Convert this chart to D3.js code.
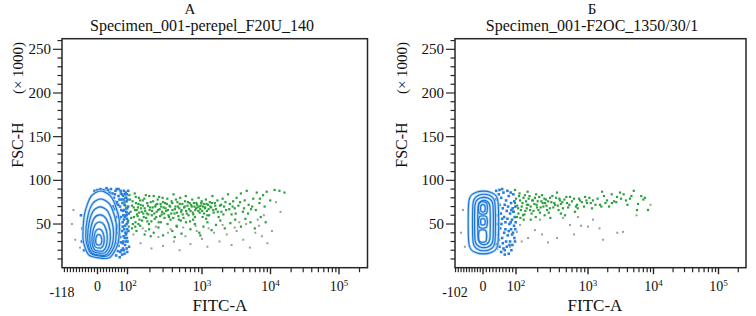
<!DOCTYPE html>
<html><head><meta charset="utf-8">
<script src="https://cdn.jsdelivr.net/npm/d3@7"></script>
<style>
body{margin:0;background:#fff}
svg{display:block}
text{font-family:"Liberation Serif","Times New Roman",serif;fill:#111}
</style>
</head><body>
<svg id="c" width="756" height="316"></svg>
<script>
// ---------------- data ----------------
const panelLetters = ["А", "Б"];
const panelTitles = ["Specimen_001-perepel_F20U_140", "Specimen_001-F2OC_1350/30/1"];
const xMinValues = [-118, -102];
const xMaxValue = 262144;
const yMaxK = 262.144;
const yMajorTicks = [50, 100, 150, 200, 250];
const xMajorTicks = [0, 100, 1000, 10000, 100000];
const xTickBase = ["0", "10", "10", "10", "10"];
const xTickExp = ["", "2", "3", "4", "5"];
const xAxisTitle = "FITC-A";
const yAxisTitle = "FSC-H";
const yAxisUnit = "(× 1000)";

// panel A: [FITC-A, FSC-H (×1000)]
const greenA = [
  [85,82],[90,75],[95,68],[98,60],[102,54],[108,78],[110,64],[115,71],[118,50],[122,58],[125,85],[126,66],
  [130,74],[134,61],[138,69],[142,80],[145,55],[150,72],[155,64],[160,77],[165,58],[170,68],[176,83],[182,62],[188,71],[194,50],[198,66],
  [205,75],[212,60],[218,69],[225,82],[232,56],[240,72],[246,64],[254,78],[262,52],[270,67],[278,73],[288,61],[296,80],[305,69],[314,57],[320,74],
  [330,65],[342,79],[355,60],[366,71],[378,55],[390,76],[402,66],[415,84],[428,62],[440,70],[455,48],[468,75],[482,59],[496,68],[510,80],
  [525,64],[545,73],[565,57],[585,70],[605,82],[625,62],[648,75],[670,67],[692,53],[715,72],[740,78],[765,61],[790,70],[812,66],
  [840,74],[870,69],[900,80],[930,63],[960,71],[990,76],[1020,58],[1060,73],[1100,68],[1140,78],[1180,65],[1220,72],[1270,60],[1300,75],
  [1360,69],[1420,82],[1480,63],[1540,74],[1600,67],[1680,77],[1750,58],[1830,71],[1920,64],[2000,79],[2100,70],
  [2250,66],[2400,84],[2550,73],[2700,61],[2850,76],[3000,68],[3200,80],[3400,71],
  [3700,85],[3950,64],[4200,77],[4500,88],[4800,72],[5200,67],[5600,79],
  [6300,86],[6900,74],[7800,83],[8800,87],[9900,77],[11500,89],[13500,88],[16000,86],
  [93,71],[97,63],[104,47],[106,83],[112,57],[117,76],[121,69],[128,52],[129,81],[133,66],[137,59],[140,73],[143,63],
  [147,77],[152,68],[157,54],[161,71],[163,62],[168,79],[173,65],[178,57],[184,74],[191,61],[196,82],[201,69],[209,53],
  [214,65],[221,76],[229,62],[236,70],[243,58],[251,73],[258,66],[266,81],[274,59],[283,70],[292,64],[300,75],[311,62],
  [323,68],[337,73],[349,66],[361,58],[374,70],[387,62],[399,74],[411,57],[433,67],[447,78],[462,63],[476,70],[489,55],
  [503,73],[532,66],[551,61],[574,69],[593,76],[612,65],[637,71],[659,60],[681,74],[703,65],[728,70],[752,63],[778,74],
  [803,58],[833,68],[862,72],[893,65],[921,70],[948,67],[976,74],[1005,65],[1035,70],[1075,62],[1115,69],[1160,73],
  [1200,60],[1250,67],[1320,70],[1400,74],[1460,66],[1560,71],[1700,64],[1900,72],[2050,61],[2200,75],[2500,67],
  [2800,70],[3100,62],[3600,75],[4100,68],[4700,62],[5400,70],[6100,66],[7000,79],[8200,70],
  [115,45],[132,42],[148,48],[170,38],[195,44],[225,40],[260,46],[300,37],[345,50],[400,42],[460,47],[530,39],
  [610,52],[700,44],[800,50],[920,40],[1050,47],[1200,52],[1380,43],[1600,49],[1850,54],[2150,45],[2600,51],[3050,55],
  [3700,47],[4300,56],[5100,52],[5900,45],[7200,58],[8500,52],[140,50],[185,53],[280,52],[520,54],[760,55],[1150,56],
  [127,47],[205,36],[430,35],[950,37]
];
const grayA = [
  [-85,50],[-80,66],[-74,32],[-58,23],[120,38],[150,28],[175,42],[210,22],[260,35],[300,25],[350,40],[420,30],
  [500,20],[600,36],[700,27],[850,42],[1000,33],[1200,24],[1500,40],[1800,30],[2300,38],[2700,26],[3200,42],
  [4000,32],[5000,23],[6000,40],[7500,36],[9000,28],[10500,42],[3500,52],[6500,55],[8000,60],[12000,75],[14000,64],
  [160,45],[240,47],[380,44],[560,46],[820,48],[1250,45],[2000,49],[3000,46],[4400,50],[6800,48]
];
const blueA = [
  [50,85],[55,80],[60,88],[65,75],[70,82],[75,70],[80,78],[85,65],[90,72],[68,62],[78,58],[88,55],[92,48],[72,50],
  [82,42],[95,38],[76,35],[86,30],[70,25],[80,20],[90,16],[62,14],[74,12],[45,90],[35,89],[25,87],[58,67],[64,45],
  [84,47],[94,60],[96,80],[66,28],[78,85],[88,88],[40,86],[52,70],[60,55],[72,38],[85,22],[92,26],
  [-55,60],[-50,45],[-52,30],[-45,20],
  [98,84],[97,76],[99,68],[96,64],[98,56],[97,50],[99,44],[96,40],[98,34],[95,30],[97,22],[99,18],[93,80],[91,84],
  [87,78],[83,74],[89,66],[86,60],[91,58],[84,52],[89,44],[93,40],[87,36],[84,28],[91,34],[88,20],[82,15],[76,18],
  [71,30],[67,40],[63,58],[69,72],[73,78],[77,88],[82,84],[58,84],[64,90],[70,90],[56,76],[61,73],[79,66],[73,56],
  [66,48],[74,44],[79,29],[68,19],[94,86],[100,78],[102,70],[104,62],[101,52],[103,42],[100,30],[105,24],[102,88],
  [10,90],[20,89],[-10,88],[0,89],[30,91]
];
// contour rings: [FITC low, FITC high, FSC low, FSC high]
const ringsA = [
  [-48,72,11.1,87.8],[-38,62,13.4,78.7],[-32,52,14.5,69.6],[-25,42,16.8,60.5],[-18,32,19.1,52.3],[-12,22,22.6,44.3],[-6,14,26,38]
];

// panel Б
const greenB = [
  [7400,80],[8240,66],[5600,66],[4380,79],[3080,86],[2770,81],[2320,74],[1950,77],[1640,87],[1525,72],[1190,77],[1150,68],
  [908,81],[968,74],[774,77],[703,72],[660,64],[562,81],[511,74],[449,68],[408,77],[371,86],[348,72],[297,80],[270,66],
  [253,74],[230,83],[215,63],[196,69],[172,77],[157,66],[142,72],[133,83],[125,60],[114,77],[107,68],[103,58],[97,74],[91,64],
  [120,70],[135,65],[150,79],[165,62],[180,73],[190,84],[205,66],[225,76],[240,70],[260,78],[285,63],[310,75],[330,69],
  [360,80],[390,66],[420,73],[470,78],[530,69],[600,76],[720,68],[820,75],[1050,80],[1300,72],[1750,82],[2100,70],
  [2500,76],[3500,84],[4000,72],[5000,88],[6500,82],[110,82],[128,55],[145,87],[188,58],[300,57],[480,60],[97,89],
  [100,79],[104,71],[108,62],[112,85],[117,66],[123,74],[127,80],[131,61],[138,76],[141,68],[148,72],[154,82],[160,70],
  [168,77],[175,65],[183,80],[193,72],[200,76],[210,81],[220,69],[235,74],[248,79],[265,71],[280,76],[295,68],[320,82],
  [340,74],[380,71],[400,79],[440,75],[500,81],[550,72],[640,79],[680,70],[750,79],[880,70],[950,77],[1100,74],[1400,79],
  [1600,70],[1850,74],[2300,84],[2700,75],[3200,79],[3800,77],[4600,82],[5800,73],[7000,78],[115,57],[160,55],[250,60],[420,62]
];
const grayB = [
  [3420,41],[1690,32],[1000,47],[371,34],[278,29],[183,43],[147,34],[114,49],[215,55],[449,57],[726,58],[1190,55],
  [562,49],[103,41],[82,24],[-66,24],[-73,66],[800,48],[1500,45],[2800,40],[640,38],[230,38],[120,30],[-80,40],
  [5500,60],[9000,72]
];
const blueB = [
  [40,88],[48,84],[55,80],[62,86],[70,77],[78,82],[85,74],[50,72],[60,68],[72,65],[82,62],[45,60],[58,56],[68,52],
  [80,50],[52,45],[64,40],[75,37],[85,44],[48,32],[60,28],[72,24],[82,30],[42,22],[55,18],[66,20],[38,78],[44,50],
  [88,55],[90,68],[36,40],[40,27],
  [92,84],[95,76],[93,64],[96,58],[94,48],[91,40],[95,34],[89,26],[86,20],[78,16],[66,15],[84,86],[74,88],[50,89],
  [58,90],[66,72],[76,70],[86,66],[54,62],[64,58],[74,56],[84,52],[56,50],[68,44],[78,42],[88,38],[46,38],[58,34],
  [70,30],[80,26],[50,24],[62,22],[98,70],[99,52],[98,44],[97,30]
];
const ringsB = [
  [-51,45,16.8,86.7],[-36,36,20.3,83.2],[-29,30,23.8,79.7],[-18,21,27.1,76.4],
  [-15,12,61.4,75.2],[-15,12,45.4,59.2],[-15,10,29.4,43.2],[-8,6,64,72],[-8,6,49,56]
];

// ---------------- layout ----------------
const panels = [
  {xmin: xMinValues[0], green: greenA, gray: grayA, blue: blueA, rings: ringsA, shape: "egg",
   px: [62, 97.5, 127.5, 202, 270.5, 339, 367.5], letterX: 190, titleX: 202, yTitleX: 23, xTitleX: 220},
  {xmin: xMinValues[1], green: greenB, gray: grayB, blue: blueB, rings: ringsB, shape: "rect",
   px: [455, 483, 516, 588, 653.5, 718.5, 746], letterX: 592, titleX: 592, yTitleX: 407, xTitleX: 595}
];
const yTop = 38.7, yBot = 267.7;

const svg = d3.select("#c");
const y = d3.scaleLinear().domain([0, yMaxK]).range([yBot, yTop]);

panels.forEach((p, i) => {
  const lin = d3.scaleLinear().domain([p.xmin, 0, 100]).range(p.px.slice(0, 3));
  const lg = d3.scaleLog().domain([100, 1e3, 1e4, 1e5, xMaxValue]).range(p.px.slice(2));
  const x = v => v <= 100 ? lin(v) : lg(v);
  const x0 = p.px[0], x1 = p.px[6];
  const g = svg.append("g");

  g.append("text").attr("x", p.letterX).attr("y", 14).attr("text-anchor", "middle")
    .style("font-size", "15px").text(panelLetters[i]);
  g.append("text").attr("x", p.titleX).attr("y", 31).attr("text-anchor", "middle")
    .style("font-size", "16px").text(panelTitles[i]);

  const dots = (arr, col, s) => g.append("g").selectAll("rect").data(arr).join("rect")
    .attr("x", d => x(d[0]) - s / 2).attr("y", d => y(d[1]) - s / 2)
    .attr("width", s).attr("height", s).attr("fill", col);
  dots(p.gray, "#95a295", 2);
  dots(p.green, "#2c9f3e", 2.2);
  dots(p.blue, "#2a7fdc", 2.6);

  const line = d3.line().curve(d3.curveCardinalClosed.tension(0.2));
  const shapePts = r => {
    const a = x(r[0]), b = x(r[1]), t = y(r[3]), bt = y(r[2]);
    const w = b - a, h = bt - t, c = (a + b) / 2;
    if (p.shape === "egg") {
      return [[c, t], [a + 0.8 * w, t + 0.1 * h], [b, t + 0.42 * h], [b - 0.03 * w, t + 0.78 * h],
              [a + 0.75 * w, bt - 0.01 * h], [c - 0.05 * w, bt], [a + 0.15 * w, bt - 0.05 * h],
              [a, t + 0.72 * h], [a + 0.04 * w, t + 0.35 * h], [a + 0.22 * w, t + 0.08 * h]];
    }
    return [[a + 0.28 * w, t], [b - 0.28 * w, t], [b, t + 0.14 * h], [b, bt - 0.14 * h],
            [b - 0.28 * w, bt], [a + 0.28 * w, bt], [a, bt - 0.14 * h], [a, t + 0.14 * h]];
  };
  const rg = g.append("g").attr("fill", "none");
  rg.selectAll("path.h").data(p.rings).join("path").attr("class", "h")
    .attr("d", r => line(shapePts(r))).attr("stroke", "#a9d2f5").attr("stroke-width", 2.6);
  rg.selectAll("path.l").data(p.rings).join("path").attr("class", "l")
    .attr("d", r => line(shapePts(r))).attr("stroke", "#1c74d4").attr("stroke-width", 1.1);

  g.append("rect").attr("x", x0).attr("y", yTop).attr("width", x1 - x0).attr("height", yBot - yTop)
    .attr("fill", "none").attr("stroke", "#262626").attr("stroke-width", 1.5);

  const yMinor = d3.range(10, 261, 10).filter(v => !yMajorTicks.includes(v));
  g.append("g").selectAll("line").data(yMinor).join("line")
    .attr("x1", x0 - 4.5).attr("x2", x0).attr("y1", d => y(d)).attr("y2", d => y(d))
    .attr("stroke", "#262626").attr("stroke-width", 1.2);
  g.append("g").selectAll("line").data(yMajorTicks).join("line")
    .attr("x1", x0 - 9).attr("x2", x0).attr("y1", d => y(d)).attr("y2", d => y(d))
    .attr("stroke", "#262626").attr("stroke-width", 1.2);
  g.append("g").selectAll("text").data(yMajorTicks).join("text")
    .attr("x", x0 - 11).attr("y", d => y(d)).attr("dy", "0.34em").attr("text-anchor", "end")
    .style("font-size", "15px").text(d => d);

  const xLinMinor = d3.range(Math.ceil(p.xmin / 10) * 10, 100, 10).filter(v => v !== 0);
  const xLogMinor = [];
  [100, 1e3, 1e4, 1e5].forEach(dec => d3.range(2, 10).forEach(k => { if (k * dec <= xMaxValue) xLogMinor.push(k * dec); }));
  g.append("g").selectAll("line").data(xLinMinor.concat(xLogMinor)).join("line")
    .attr("x1", d => x(d)).attr("x2", d => x(d)).attr("y1", yBot).attr("y2", yBot + 4.5)
    .attr("stroke", "#262626").attr("stroke-width", 1.2);
  g.append("g").selectAll("line").data(xMajorTicks).join("line")
    .attr("x1", d => x(d)).attr("x2", d => x(d)).attr("y1", yBot).attr("y2", yBot + 6.5)
    .attr("stroke", "#262626").attr("stroke-width", 1.4);
  const lbl = g.append("g").selectAll("text").data(xMajorTicks).join("text")
    .attr("x", d => x(d)).attr("y", 291).attr("text-anchor", "middle").style("font-size", "14px");
  lbl.append("tspan").text((d, j) => xTickBase[j]);
  lbl.append("tspan").attr("dy", "-5").style("font-size", "9px").text((d, j) => xTickExp[j]);
  g.append("text").attr("x", x(p.xmin)).attr("y", 297).attr("text-anchor", "middle")
    .style("font-size", "14px").text(p.xmin);

  g.append("text").attr("x", p.xTitleX).attr("y", 311).attr("text-anchor", "middle")
    .style("font-size", "17px").text(xAxisTitle);
  g.append("text").attr("transform", `translate(${p.yTitleX},145) rotate(-90)`).attr("text-anchor", "middle")
    .style("font-size", "16px").text(yAxisTitle);
  g.append("text").attr("transform", `translate(${p.yTitleX},68) rotate(-90)`).attr("text-anchor", "middle")
    .style("font-size", "15px").text(yAxisUnit);
});
</script>
</body></html>
